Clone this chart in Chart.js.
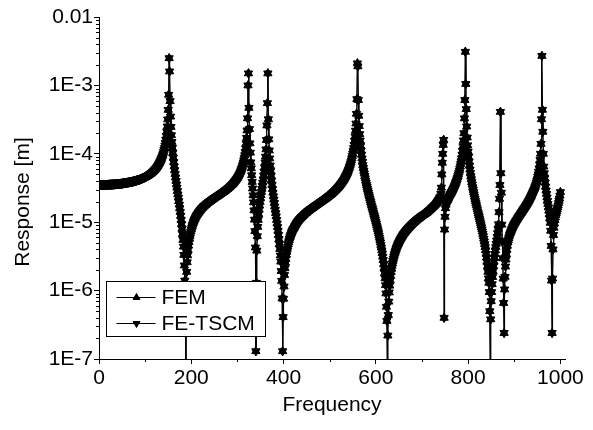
<!DOCTYPE html>
<html>
<head>
<meta charset="utf-8">
<script src="https://cdn.jsdelivr.net/npm/chart.js@4.4.1/dist/chart.umd.min.js"></script>
<style>
  html, body { margin: 0; padding: 0; background: #fff; }
  #wrap { width: 593px; height: 430px; }
</style>
</head>
<body>
<div id="wrap"><canvas id="chart" width="593" height="430"></canvas></div>
<script>
// Axis ticks and labels
const xTickValues = [0, 200, 400, 600, 800, 1000];
const xTickLabels = ['0', '200', '400', '600', '800', '1000'];
const xMinorTickValues = [100, 300, 500, 700, 900];
const yTickValues = [1e-7, 1e-6, 1e-5, 1e-4, 1e-3, 1e-2];
const yTickLabels = ['1E-7', '1E-6', '1E-5', '1E-4', '1E-3', '0.01'];
const seriesNames = ['FEM', 'FE-TSCM'];

// Response [m], every 1 Hz from 0 to 1000 (one row = 20 Hz)
const femResponse = [
  3.5e-5, 3.5e-5, 3.5e-5, 3.5e-5, 3.5e-5, 3.5e-5, 3.5e-5, 3.5e-5, 3.5e-5, 3.5e-5, 3.5e-5, 3.5e-5, 3.5e-5, 3.5e-5, 3.51e-5, 3.51e-5, 3.52e-5, 3.52e-5, 3.52e-5, 3.53e-5, // 0
  3.53e-5, 3.53e-5, 3.54e-5, 3.54e-5, 3.54e-5, 3.55e-5, 3.55e-5, 3.55e-5, 3.55e-5, 3.56e-5, 3.56e-5, 3.56e-5, 3.57e-5, 3.57e-5, 3.58e-5, 3.58e-5, 3.59e-5, 3.59e-5, 3.6e-5, 3.6e-5, // 20
  3.61e-5, 3.61e-5, 3.62e-5, 3.62e-5, 3.63e-5, 3.64e-5, 3.65e-5, 3.65e-5, 3.66e-5, 3.66e-5, 3.67e-5, 3.68e-5, 3.69e-5, 3.7e-5, 3.71e-5, 3.72e-5, 3.73e-5, 3.74e-5, 3.75e-5, 3.76e-5, // 40
  3.77e-5, 3.78e-5, 3.79e-5, 3.8e-5, 3.81e-5, 3.82e-5, 3.83e-5, 3.84e-5, 3.86e-5, 3.87e-5, 3.88e-5, 3.9e-5, 3.91e-5, 3.92e-5, 3.94e-5, 3.95e-5, 3.97e-5, 3.98e-5, 4.0e-5, 4.02e-5, // 60
  4.04e-5, 4.06e-5, 4.08e-5, 4.1e-5, 4.12e-5, 4.14e-5, 4.16e-5, 4.18e-5, 4.2e-5, 4.22e-5, 4.25e-5, 4.27e-5, 4.3e-5, 4.33e-5, 4.36e-5, 4.39e-5, 4.42e-5, 4.45e-5, 4.48e-5, 4.51e-5, // 80
  4.55e-5, 4.59e-5, 4.63e-5, 4.67e-5, 4.71e-5, 4.75e-5, 4.8e-5, 4.85e-5, 4.9e-5, 4.95e-5, 5.0e-5, 5.06e-5, 5.12e-5, 5.18e-5, 5.25e-5, 5.32e-5, 5.4e-5, 5.48e-5, 5.56e-5, 5.65e-5, // 100
  5.74e-5, 5.84e-5, 5.94e-5, 6.05e-5, 6.17e-5, 6.3e-5, 6.45e-5, 6.6e-5, 6.76e-5, 6.94e-5, 7.13e-5, 7.34e-5, 7.57e-5, 7.82e-5, 8.09e-5, 8.4e-5, 8.75e-5, 9.14e-5, 9.57e-5, 1.01e-4, // 120
  1.07e-4, 1.14e-4, 1.22e-4, 1.32e-4, 1.45e-4, 1.61e-4, 1.82e-4, 2.11e-4, 2.51e-4, 3.18e-4, 4.39e-4, 7.3e-4, 2.5e-3, 1.6e-3, 5.9e-4, 3.5e-4, 2.47e-4, 1.87e-4, 1.49e-4, 1.22e-4, // 140
  1.03e-4, 8.75e-5, 7.55e-5, 6.56e-5, 5.77e-5, 5.07e-5, 4.51e-5, 4.01e-5, 3.57e-5, 3.2e-5, 2.86e-5, 2.55e-5, 2.29e-5, 2.03e-5, 1.81e-5, 1.6e-5, 1.42e-5, 1.24e-5, 1.08e-5, 9.35e-6, // 160
  8.0e-6, 6.71e-6, 5.5e-6, 4.39e-6, 3.33e-6, 2.33e-6, 1.4e-6, 5.1e-7, 8e-8, 1.12e-6, 1.88e-6, 2.6e-6, 3.28e-6, 3.93e-6, 4.55e-6, 5.13e-6, 5.73e-6, 6.3e-6, 6.82e-6, 7.33e-6, // 180
  7.82e-6, 8.3e-6, 8.76e-6, 9.2e-6, 9.64e-6, 1.01e-5, 1.05e-5, 1.09e-5, 1.12e-5, 1.16e-5, 1.2e-5, 1.24e-5, 1.27e-5, 1.3e-5, 1.33e-5, 1.36e-5, 1.39e-5, 1.42e-5, 1.45e-5, 1.48e-5, // 200
  1.51e-5, 1.54e-5, 1.57e-5, 1.6e-5, 1.62e-5, 1.65e-5, 1.68e-5, 1.71e-5, 1.73e-5, 1.76e-5, 1.78e-5, 1.8e-5, 1.82e-5, 1.85e-5, 1.87e-5, 1.9e-5, 1.92e-5, 1.95e-5, 1.97e-5, 1.99e-5, // 220
  2.01e-5, 2.04e-5, 2.06e-5, 2.08e-5, 2.1e-5, 2.13e-5, 2.15e-5, 2.18e-5, 2.2e-5, 2.23e-5, 2.25e-5, 2.28e-5, 2.3e-5, 2.32e-5, 2.34e-5, 2.37e-5, 2.39e-5, 2.42e-5, 2.44e-5, 2.47e-5, // 240
  2.49e-5, 2.52e-5, 2.55e-5, 2.58e-5, 2.61e-5, 2.64e-5, 2.66e-5, 2.69e-5, 2.72e-5, 2.75e-5, 2.78e-5, 2.81e-5, 2.84e-5, 2.88e-5, 2.92e-5, 2.95e-5, 2.99e-5, 3.02e-5, 3.06e-5, 3.1e-5, // 260
  3.13e-5, 3.18e-5, 3.22e-5, 3.27e-5, 3.32e-5, 3.37e-5, 3.42e-5, 3.47e-5, 3.52e-5, 3.57e-5, 3.63e-5, 3.7e-5, 3.77e-5, 3.84e-5, 3.92e-5, 4.0e-5, 4.07e-5, 4.16e-5, 4.26e-5, 4.36e-5, // 280
  4.46e-5, 4.58e-5, 4.71e-5, 4.85e-5, 4.99e-5, 5.16e-5, 5.35e-5, 5.55e-5, 5.77e-5, 6.03e-5, 6.31e-5, 6.65e-5, 7.03e-5, 7.5e-5, 8.04e-5, 8.72e-5, 9.53e-5, 1.06e-4, 1.2e-4, 1.42e-4, // 300
  1.71e-4, 2.2e-4, 3.3e-4, 1.0e-3, 1.5e-3, 4.7e-4, 2.3e-4, 1.42e-4, 1.04e-4, 7.5e-5, 6.14e-5, 4.86e-5, 3.88e-5, 3.11e-5, 2.47e-5, 1.95e-5, 1.49e-5, 1.09e-5, 7.41e-6, 4.26e-6, // 320
  1.3e-7, 1.3e-6, 3.84e-6, 6.24e-6, 8.55e-6, 1.08e-5, 1.31e-5, 1.53e-5, 1.75e-5, 1.98e-5, 2.23e-5, 2.49e-5, 2.77e-5, 3.07e-5, 3.41e-5, 3.8e-5, 4.23e-5, 4.81e-5, 5.48e-5, 6.34e-5, // 340
  7.48e-5, 9.08e-5, 1.16e-4, 1.59e-4, 2.6e-4, 5.5e-4, 1.5e-3, 3.2e-4, 1.63e-4, 1.12e-4, 8.55e-5, 6.76e-5, 5.6e-5, 4.76e-5, 4.04e-5, 3.51e-5, 3.05e-5, 2.7e-5, 2.39e-5, 2.14e-5, // 360
  1.91e-5, 1.7e-5, 1.52e-5, 1.36e-5, 1.22e-5, 1.08e-5, 9.6e-6, 8.5e-6, 7.5e-6, 6.5e-6, 5.65e-6, 4.79e-6, 4.06e-6, 3.26e-6, 2.65e-6, 1.93e-6, 1.39e-6, 7.7e-7, 1.3e-7, 4.1e-7, // 380
  7.6e-7, 1.15e-6, 1.69e-6, 2.12e-6, 2.55e-6, 2.91e-6, 3.34e-6, 3.7e-6, 4.08e-6, 4.42e-6, 4.78e-6, 5.1e-6, 5.43e-6, 5.74e-6, 6.05e-6, 6.34e-6, 6.63e-6, 6.91e-6, 7.19e-6, 7.46e-6, // 400
  7.73e-6, 7.94e-6, 8.15e-6, 8.38e-6, 8.61e-6, 8.86e-6, 9.12e-6, 9.36e-6, 9.6e-6, 9.85e-6, 1.01e-5, 1.03e-5, 1.05e-5, 1.07e-5, 1.09e-5, 1.11e-5, 1.13e-5, 1.15e-5, 1.17e-5, 1.19e-5, // 420
  1.21e-5, 1.22e-5, 1.24e-5, 1.26e-5, 1.28e-5, 1.3e-5, 1.32e-5, 1.34e-5, 1.36e-5, 1.37e-5, 1.39e-5, 1.41e-5, 1.43e-5, 1.45e-5, 1.47e-5, 1.48e-5, 1.5e-5, 1.52e-5, 1.54e-5, 1.55e-5, // 440
  1.57e-5, 1.59e-5, 1.61e-5, 1.62e-5, 1.64e-5, 1.66e-5, 1.68e-5, 1.7e-5, 1.72e-5, 1.74e-5, 1.76e-5, 1.77e-5, 1.79e-5, 1.81e-5, 1.84e-5, 1.85e-5, 1.87e-5, 1.9e-5, 1.92e-5, 1.94e-5, // 460
  1.96e-5, 1.98e-5, 2.0e-5, 2.02e-5, 2.05e-5, 2.07e-5, 2.09e-5, 2.11e-5, 2.14e-5, 2.16e-5, 2.18e-5, 2.2e-5, 2.23e-5, 2.26e-5, 2.29e-5, 2.31e-5, 2.34e-5, 2.37e-5, 2.4e-5, 2.43e-5, // 480
  2.46e-5, 2.49e-5, 2.52e-5, 2.55e-5, 2.59e-5, 2.62e-5, 2.66e-5, 2.7e-5, 2.74e-5, 2.77e-5, 2.81e-5, 2.85e-5, 2.9e-5, 2.95e-5, 3.0e-5, 3.05e-5, 3.1e-5, 3.15e-5, 3.21e-5, 3.26e-5, // 500
  3.32e-5, 3.39e-5, 3.46e-5, 3.53e-5, 3.61e-5, 3.68e-5, 3.76e-5, 3.84e-5, 3.93e-5, 4.02e-5, 4.11e-5, 4.22e-5, 4.33e-5, 4.46e-5, 4.59e-5, 4.74e-5, 4.89e-5, 5.05e-5, 5.22e-5, 5.42e-5, // 520
  5.64e-5, 5.88e-5, 6.14e-5, 6.44e-5, 6.76e-5, 7.13e-5, 7.53e-5, 8.02e-5, 8.57e-5, 9.25e-5, 1.0e-4, 1.1e-4, 1.21e-4, 1.35e-4, 1.55e-4, 1.8e-4, 2.18e-4, 2.77e-4, 3.84e-4, 6.3e-4, // 540
  2.1e-3, 1.9e-3, 6.1e-4, 3.6e-4, 2.54e-4, 1.94e-4, 1.57e-4, 1.31e-4, 1.11e-4, 9.7e-5, 8.55e-5, 7.65e-5, 6.84e-5, 6.2e-5, 5.64e-5, 5.17e-5, 4.74e-5, 4.38e-5, 4.05e-5, 3.76e-5, // 560
  3.49e-5, 3.27e-5, 3.06e-5, 2.87e-5, 2.69e-5, 2.52e-5, 2.37e-5, 2.23e-5, 2.09e-5, 1.97e-5, 1.86e-5, 1.75e-5, 1.65e-5, 1.56e-5, 1.47e-5, 1.38e-5, 1.3e-5, 1.23e-5, 1.16e-5, 1.09e-5, // 580
  1.02e-5, 9.6e-6, 9.0e-6, 8.43e-6, 7.89e-6, 7.37e-6, 6.89e-6, 6.4e-6, 5.94e-6, 5.49e-6, 5.07e-6, 4.65e-6, 4.26e-6, 3.87e-6, 3.51e-6, 3.14e-6, 2.8e-6, 2.45e-6, 2.13e-6, 1.8e-6, // 600
  1.51e-6, 1.2e-6, 9.1e-7, 5.8e-7, 3.6e-7, 7e-8, 2.2e-7, 4.4e-7, 6.9e-7, 9.4e-7, 1.18e-6, 1.41e-6, 1.64e-6, 1.86e-6, 2.08e-6, 2.3e-6, 2.51e-6, 2.72e-6, 2.92e-6, 3.12e-6, // 620
  3.32e-6, 3.51e-6, 3.7e-6, 3.88e-6, 4.06e-6, 4.25e-6, 4.43e-6, 4.6e-6, 4.78e-6, 4.93e-6, 5.09e-6, 5.26e-6, 5.43e-6, 5.58e-6, 5.74e-6, 5.9e-6, 6.06e-6, 6.21e-6, 6.37e-6, 6.53e-6, // 640
  6.7e-6, 6.84e-6, 6.98e-6, 7.12e-6, 7.26e-6, 7.4e-6, 7.55e-6, 7.7e-6, 7.85e-6, 8.0e-6, 8.15e-6, 8.28e-6, 8.41e-6, 8.55e-6, 8.69e-6, 8.83e-6, 8.97e-6, 9.12e-6, 9.27e-6, 9.41e-6, // 660
  9.55e-6, 9.68e-6, 9.82e-6, 9.96e-6, 1.01e-5, 1.02e-5, 1.04e-5, 1.05e-5, 1.07e-5, 1.08e-5, 1.1e-5, 1.11e-5, 1.12e-5, 1.14e-5, 1.15e-5, 1.16e-5, 1.18e-5, 1.19e-5, 1.21e-5, 1.22e-5, // 680
  1.24e-5, 1.25e-5, 1.26e-5, 1.27e-5, 1.29e-5, 1.3e-5, 1.31e-5, 1.33e-5, 1.34e-5, 1.36e-5, 1.37e-5, 1.39e-5, 1.41e-5, 1.43e-5, 1.45e-5, 1.47e-5, 1.49e-5, 1.51e-5, 1.53e-5, 1.55e-5, // 700
  1.58e-5, 1.6e-5, 1.63e-5, 1.65e-5, 1.68e-5, 1.7e-5, 1.73e-5, 1.75e-5, 1.78e-5, 1.81e-5, 1.84e-5, 1.88e-5, 1.92e-5, 1.96e-5, 2.01e-5, 2.06e-5, 2.11e-5, 2.16e-5, 2.22e-5, 2.29e-5, // 720
  2.36e-5, 2.6e-5, 3.2e-5, 5e-5, 7.4e-5, 1.0e-4, 1.35e-4, 1.6e-4, 4e-7, 7.8e-6, 1.2e-5, 1.6e-5, 1.8e-5, 1.95e-5, 2.05e-5, 2.1e-5, 2.13e-5, 2.21e-5, 2.29e-5, 2.37e-5, // 740
  2.46e-5, 2.52e-5, 2.59e-5, 2.67e-5, 2.75e-5, 2.83e-5, 2.92e-5, 3.01e-5, 3.1e-5, 3.21e-5, 3.33e-5, 3.46e-5, 3.59e-5, 3.74e-5, 3.89e-5, 4.07e-5, 4.27e-5, 4.49e-5, 4.73e-5, 5.01e-5, // 760
  5.31e-5, 5.66e-5, 6.05e-5, 6.53e-5, 7.08e-5, 7.78e-5, 8.59e-5, 9.7e-5, 1.1e-4, 1.29e-4, 1.57e-4, 2.0e-4, 3.3e-4, 6.1e-4, 3.1e-3, 1.05e-3, 4.5e-4, 2.5e-4, 1.73e-4, 1.33e-4, // 780
  1.08e-4, 9.0e-5, 7.67e-5, 6.71e-5, 5.87e-5, 5.24e-5, 4.7e-5, 4.26e-5, 3.86e-5, 3.54e-5, 3.24e-5, 2.98e-5, 2.75e-5, 2.55e-5, 2.36e-5, 2.19e-5, 2.04e-5, 1.9e-5, 1.77e-5, 1.65e-5, // 800
  1.54e-5, 1.44e-5, 1.35e-5, 1.27e-5, 1.19e-5, 1.11e-5, 1.04e-5, 9.7e-6, 9.06e-6, 8.44e-6, 7.87e-6, 7.29e-6, 6.76e-6, 6.23e-6, 5.74e-6, 5.24e-6, 4.79e-6, 4.32e-6, 3.89e-6, 3.45e-6, // 820
  3.05e-6, 2.64e-6, 2.27e-6, 1.88e-6, 1.51e-6, 1.3e-6, 9.5e-7, 5e-7, 7e-8, 3.8e-7, 7e-7, 9.5e-7, 1.24e-6, 1.58e-6, 1.93e-6, 2.28e-6, 2.65e-6, 3.03e-6, 3.44e-6, 3.87e-6, // 840
  4.33e-6, 4.84e-6, 5.41e-6, 6.1e-6, 6.9e-6, 7.9e-6, 9.33e-6, 1.4e-5, 2.2e-5, 3.5e-5, 4.1e-4, 5.2e-5, 2.7e-5, 9.2e-6, 5.21e-6, 2.97e-6, 1.5e-6, 6.6e-7, 2.4e-7, 1.04e-6, // 860
  1.59e-6, 2.25e-6, 2.84e-6, 3.4e-6, 3.96e-6, 4.52e-6, 5.03e-6, 5.48e-6, 5.85e-6, 6.21e-6, 6.55e-6, 6.83e-6, 7.11e-6, 7.41e-6, 7.71e-6, 8.01e-6, 8.3e-6, 8.57e-6, 8.86e-6, 9.14e-6, // 880
  9.42e-6, 9.68e-6, 9.94e-6, 1.02e-5, 1.05e-5, 1.07e-5, 1.1e-5, 1.13e-5, 1.16e-5, 1.19e-5, 1.22e-5, 1.25e-5, 1.27e-5, 1.3e-5, 1.34e-5, 1.36e-5, 1.4e-5, 1.43e-5, 1.47e-5, 1.5e-5, // 900
  1.54e-5, 1.57e-5, 1.61e-5, 1.65e-5, 1.69e-5, 1.73e-5, 1.78e-5, 1.82e-5, 1.86e-5, 1.92e-5, 1.97e-5, 2.03e-5, 2.09e-5, 2.15e-5, 2.21e-5, 2.28e-5, 2.35e-5, 2.43e-5, 2.52e-5, 2.62e-5, // 920
  2.71e-5, 2.8e-5, 2.9e-5, 3.01e-5, 3.13e-5, 3.26e-5, 3.4e-5, 3.58e-5, 3.78e-5, 4.0e-5, 4.25e-5, 4.6e-5, 5.0e-5, 5.5e-5, 6.1e-5, 7.0e-5, 8.1e-5, 1.0e-4, 1.4e-4, 3.2e-4, // 940
  2.7e-3, 4.4e-4, 2.1e-4, 1.0e-4, 6.5e-5, 5.2e-5, 4.4e-5, 3.8e-5, 3.3e-5, 2.9e-5, 2.6e-5, 2.3e-5, 2.05e-5, 1.85e-5, 1.65e-5, 1.48e-5, 1.3e-5, 1.15e-5, 9.8e-6, 7.5e-6, // 960
  4.5e-6, 1.4e-6, 2.4e-7, 1.5e-6, 4e-6, 6.5e-6, 8.3e-6, 9.6e-6, 1.07e-5, 1.17e-5, 1.27e-5, 1.36e-5, 1.45e-5, 1.55e-5, 1.65e-5, 1.76e-5, 1.9e-5, 2.05e-5, 2.22e-5, 2.45e-5, // 980
  2.75e-5 // 1000
];
// the two methods coincide everywhere on the plot
const feTscmResponse = femResponse.slice();

const freqStepHz = 1;
const frequency = femResponse.map((_, i) => i * freqStepHz);

const FONT = "'Liberation Sans', Arial, sans-serif";

// short minor ticks (Chart.js only draws one tick length) + rotated y title
const axisExtras = {
  id: 'axisExtras',
  afterDraw(chart) {
    const { ctx, chartArea, scales: { x, y } } = chart;
    ctx.save();
    ctx.strokeStyle = '#000';
    ctx.lineWidth = 1;
    ctx.beginPath();
    xMinorTickValues.forEach(v => {
      const px = Math.round(x.getPixelForValue(v)) + 0.5;
      ctx.moveTo(px, chartArea.bottom);
      ctx.lineTo(px, chartArea.bottom + 3);
    });
    yTickValues.slice(0, -1).forEach(dec => {
      for (let m = 2; m <= 9; m++) {
        const py = Math.round(y.getPixelForValue(m * dec)) + 0.5;
        ctx.moveTo(chartArea.left - 3, py);
        ctx.lineTo(chartArea.left, py);
      }
    });
    ctx.stroke();

    ctx.fillStyle = '#000';
    ctx.font = '21px ' + FONT;
    ctx.textAlign = 'center';
    ctx.textBaseline = 'middle';
    ctx.translate(23, 202);
    ctx.rotate(-Math.PI / 2);
    ctx.fillText('Response [m]', 0, 0);
    ctx.restore();
  }
};

// framed legend sitting inside the plot, lower left
const boxLegend = {
  id: 'boxLegend',
  afterDraw(chart) {
    const ctx = chart.ctx;
    const left = 106.5, top = 281.5, w = 159, h = 55;
    ctx.save();
    ctx.lineWidth = 1;
    ctx.strokeStyle = '#000';
    ctx.fillStyle = '#fff';
    ctx.fillRect(left, top, w, h);
    ctx.strokeRect(left, top, w, h);
    ctx.fillStyle = '#000';
    ctx.font = '21px ' + FONT;
    ctx.textBaseline = 'middle';
    chart.data.datasets.forEach((ds, i) => {
      const cy = Math.round(top + 15 + i * 26) + 0.5;
      ctx.beginPath();
      ctx.moveTo(left + 10, cy);
      ctx.lineTo(left + 49, cy);
      ctx.stroke();
      Chart.helpers.drawPoint(ctx, {
        pointStyle: 'triangle', radius: 4, rotation: ds.pointRotation || 0, borderWidth: 1
      }, left + 30, cy);
      ctx.fillText(ds.label, left + 55, cy + 1);
    });
    ctx.restore();
  }
};

function series(values) {
  return frequency.map((f, i) => ({ x: f, y: values[i] }));
}

const lineStyle = {
  borderColor: '#000',
  borderWidth: 1,
  pointStyle: 'triangle',
  pointRadius: 4.8,
  pointBackgroundColor: '#000',
  pointBorderColor: '#000',
  pointBorderWidth: 1,
  tension: 0
};

new Chart(document.getElementById('chart'), {
  type: 'line',
  data: {
    datasets: [
      Object.assign({ label: seriesNames[0], data: series(femResponse), pointRotation: 0 }, lineStyle),
      Object.assign({ label: seriesNames[1], data: series(feTscmResponse), pointRotation: 180 }, lineStyle)
    ]
  },
  options: {
    responsive: false,
    devicePixelRatio: 1,
    animation: false,
    events: [],
    layout: { padding: { top: 17, right: 28, bottom: 0, left: 0 } },
    plugins: { legend: { display: false }, tooltip: { enabled: false } },
    scales: {
      x: {
        type: 'linear',
        min: 0,
        max: 1010,
        afterBuildTicks: axis => { axis.ticks = xTickValues.map(v => ({ value: v })); },
        afterFit: axis => { axis.height = 71; },
        grid: { drawOnChartArea: false, tickLength: 5, tickColor: '#000' },
        border: { color: '#000', width: 1 },
        ticks: { color: '#000', font: { family: FONT, size: 21 }, padding: 2, maxRotation: 0, autoSkip: false,
                 callback: (v, i) => xTickLabels[i] },
        title: { display: true, text: 'Frequency', color: '#000', font: { family: FONT, size: 21 }, padding: { top: 0, bottom: 12 } }
      },
      y: {
        type: 'logarithmic',
        min: 1e-7,
        max: 1e-2,
        afterBuildTicks: axis => { axis.ticks = yTickValues.map(v => ({ value: v })); },
        afterFit: axis => { axis.width = 99; },
        grid: { drawOnChartArea: false, tickLength: 5, tickColor: '#000' },
        border: { color: '#000', width: 1 },
        ticks: { color: '#000', font: { family: FONT, size: 21 }, padding: 1, autoSkip: false,
                 callback: (v, i) => yTickLabels[i] }
      }
    }
  },
  plugins: [axisExtras, boxLegend]
});
</script>
</body>
</html>
